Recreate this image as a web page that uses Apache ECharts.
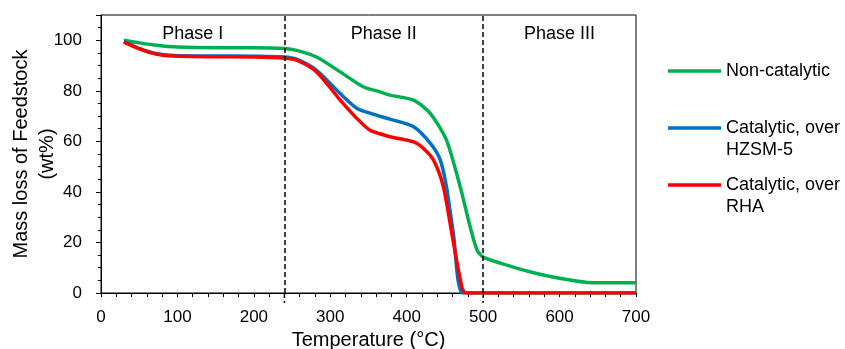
<!DOCTYPE html>
<html>
<head>
<meta charset="utf-8">
<script src="https://cdn.jsdelivr.net/npm/echarts@6/dist/echarts.min.js"></script>
<style>html,body{margin:0;padding:0;background:#fff}#c{width:845px;height:349px}</style>
</head>
<body>
<div id="c"></div>
<script>
// Temperature (°C) and mass (wt%) readings
const nonCatT = [30, 50, 73, 100, 150, 200, 240, 256, 282, 313, 343, 365, 378, 409, 431, 452, 470, 483, 492, 500, 531, 561, 600, 636, 660, 700];
const nonCatV = [100, 99, 98, 97.3, 97, 97, 96.7, 96, 93.4, 87.5, 81.6, 79.6, 78.3, 76.3, 71, 60.5, 42, 26.2, 17, 14.2, 11, 8.4, 5.8, 4.2, 4.1, 4.1];
const hzsmT = [30, 51, 73, 95, 150, 200, 240, 256, 282, 313, 335, 356, 378, 409, 431, 444, 452, 461, 473, 500, 600, 700];
const hzsmV = [99.5, 96.7, 94.7, 94, 93.8, 93.7, 93.4, 92.5, 88.1, 78.9, 73, 70.8, 68.8, 65.8, 59.2, 52.6, 42, 23.6, 0, 0, 0, 0];
const rhaT = [30, 51, 73, 95, 150, 200, 240, 256, 282, 313, 335, 352, 365, 378, 409, 422, 435, 448, 459, 472, 477, 500, 600, 700];
const rhaV = [99.3, 96.5, 94.5, 93.8, 93.5, 93.4, 92.9, 92.1, 87.5, 76.3, 69, 64.4, 63, 61.8, 59.8, 57.2, 52.6, 42, 23.6, 2.5, 0, 0, 0, 0];
const seriesNames = ['Non-catalytic', 'Catalytic, over\nHZSM-5', 'Catalytic, over\nRHA'];
const seriesColors = ['#00B050', '#0070C0', '#FF0000'];
const phaseBounds = [240, 500];
const phaseLabels = ['Phase I', 'Phase II', 'Phase III'];
const phaseLabelX = [120, 370, 600];
const xTicks = [0, 100, 200, 300, 400, 500, 600, 700];
const yTicks = [0, 20, 40, 60, 80, 100];

const zip = (a, b) => a.map((t, i) => [t, b[i]]);
const FONT = '"Liberation Sans", Arial, sans-serif';

const chart = echarts.init(document.getElementById('c'), null, {renderer: 'canvas'});

const baseLine = (name, color, data) => ({
  name, type: 'line', data, showSymbol: false, smooth: 0.25,
  lineStyle: {color, width: 3.5}, itemStyle: {color}, animation: false, silent: true
});

const s0 = baseLine(seriesNames[0], seriesColors[0], zip(nonCatT, nonCatV));
s0.markLine = {
  silent: true, symbol: ['none', 'none'], animation: false,
  label: {show: false},
  lineStyle: {color: '#000', width: 1.5, type: [5, 3]},
  data: phaseBounds.map(b => ({xAxis: b}))
};
s0.markPoint = {
  silent: true, animation: false, symbol: 'circle', symbolSize: 1,
  itemStyle: {color: 'rgba(0,0,0,0)'},
  label: {show: true, position: 'inside', formatter: p => p.name, color: '#000', fontSize: 18, fontFamily: FONT},
  data: phaseLabels.map((n, i) => ({name: n, coord: [phaseLabelX[i], 102.6]}))
};

const legendTop = [71, 128, 185];
const graphics = [];
seriesNames.forEach((n, i) => {
  graphics.push({type: 'line', shape: {x1: 668, y1: legendTop[i], x2: 721, y2: legendTop[i]},
    style: {stroke: seriesColors[i], lineWidth: 3.5}});
  graphics.push({type: 'text', x: 726, y: legendTop[i] - 11,
    style: {text: n, fill: '#000', font: '18px ' + FONT, lineHeight: 22, verticalAlign: 'top', align: 'left'}});
});

chart.setOption({
  animation: false,
  grid: {left: 101, right: 209, top: 15, bottom: 56, containLabel: false, outerBoundsMode: 'none',
    show: true, borderColor: '#000', borderWidth: 1, backgroundColor: 'transparent'},
  xAxis: {
    type: 'value', min: 0, max: 700, interval: 100,
    axisLine: {show: true, lineStyle: {color: '#000', width: 1}},
    axisTick: {show: true, length: 4, lineStyle: {color: '#000'}},
    minorTick: {show: true, splitNumber: 5, length: 4, lineStyle: {color: '#000'}},
    splitLine: {show: false},
    axisLabel: {color: '#000', fontSize: 17, fontFamily: FONT, margin: 16,
      formatter: v => xTicks.includes(v) ? String(v) : ''},
    name: 'Temperature (°C)', nameLocation: 'middle', nameGap: 37, nameMoveOverlap: false,
    nameTextStyle: {color: '#000', fontSize: 20, fontFamily: FONT}
  },
  yAxis: [{
    type: 'value', min: 0, max: 110, interval: 20,
    axisLine: {show: true, lineStyle: {color: '#000', width: 1}},
    axisTick: {show: true, length: 5, lineStyle: {color: '#000'}},
    splitLine: {show: false},
    axisLabel: {color: '#000', fontSize: 17, fontFamily: FONT, margin: 19,
      formatter: v => yTicks.includes(v) ? String(v) : ''},
    name: 'Mass loss of Feedstock\n(wt%)', nameLocation: 'middle', nameGap: 41, nameMoveOverlap: false,
    nameTextStyle: {color: '#000', fontSize: 20, fontFamily: FONT, lineHeight: 26}
  }, {
    type: 'value', min: 0, max: 110, interval: 5, position: 'left',
    axisLine: {show: false},
    axisTick: {show: true, length: 3, lineStyle: {color: '#000'}},
    splitLine: {show: false}, axisLabel: {show: false}
  }],
  series: [
    s0,
    baseLine(seriesNames[1], seriesColors[1], zip(hzsmT, hzsmV)),
    baseLine(seriesNames[2], seriesColors[2], zip(rhaT, rhaV))
  ],
  graphic: graphics
});

// short dashed extensions of the phase boundaries below the x axis
const ext = phaseBounds.map(b => {
  const p0 = chart.convertToPixel({gridIndex: 0}, [b, 0]);
  return {type: 'line', shape: {x1: p0[0], y1: p0[1], x2: p0[0], y2: p0[1] + 10},
    style: {stroke: '#000', lineWidth: 1.5, lineDash: [5, 3]}};
});
chart.setOption({graphic: graphics.concat(ext)});
</script>
</body>
</html>
